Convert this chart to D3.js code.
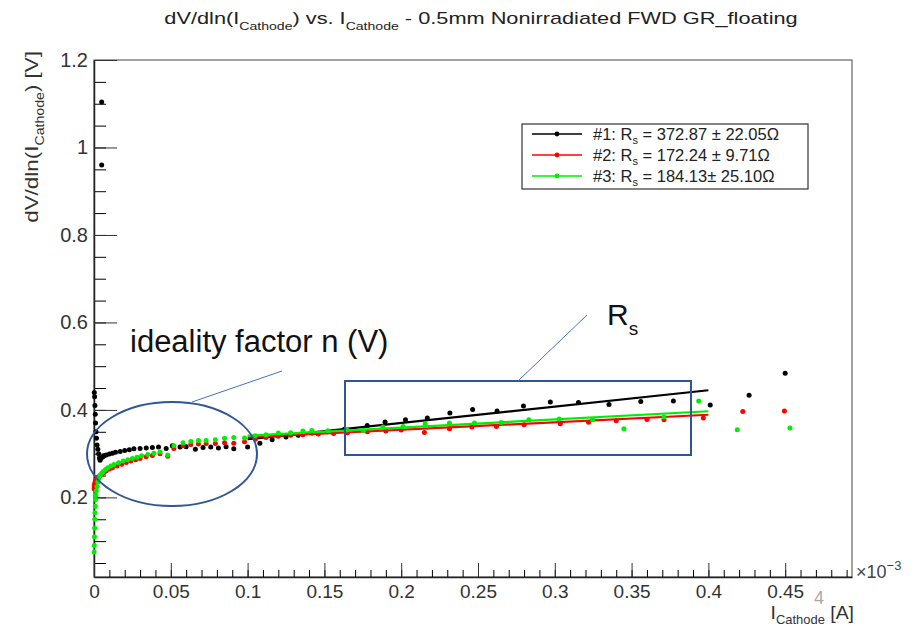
<!DOCTYPE html>
<html>
<head>
<meta charset="utf-8">
<script src="https://cdn.jsdelivr.net/npm/d3@7"></script>
<style>
  body { margin: 0; background: #fff; }
  svg { display: block; font-family: "Liberation Sans", Arial, sans-serif; }
</style>
</head>
<body>
<div id="chart"></div>
<script>
// data, current in units of 1e-3 A, dV/dlnI in V
const series1 = [
  [0.0002, 0.44], [0.0004, 0.43], [0.0006, 0.41], [0.0008, 0.39], [0.001, 0.37],
  [0.0013, 0.35], [0.0016, 0.335], [0.002, 0.32], [0.0025, 0.31], [0.003, 0.30],
  [0.0035, 0.29], [0.004, 0.285], [0.0045, 0.29], [0.005, 1.104], [0.005, 0.96],
  [0.0055, 0.292], [0.0065, 0.295], [0.008, 0.297], [0.01, 0.299], [0.012, 0.301],
  [0.014, 0.303], [0.017, 0.305], [0.02, 0.307], [0.023, 0.309], [0.026, 0.311],
  [0.03, 0.312], [0.034, 0.313], [0.038, 0.314], [0.042, 0.315], [0.047, 0.312],
  [0.051, 0.318], [0.056, 0.315], [0.06, 0.316], [0.066, 0.31], [0.071, 0.314],
  [0.076, 0.315], [0.081, 0.313], [0.086, 0.316], [0.091, 0.311], [0.1, 0.315],
  [0.108, 0.324], [0.116, 0.332], [0.125, 0.338], [0.133, 0.342], [0.142, 0.347],
  [0.152, 0.35], [0.163, 0.356], [0.1779, 0.3645], [0.1895, 0.3723], [0.2028, 0.3776],
  [0.217, 0.3815], [0.2317, 0.393], [0.2465, 0.4012], [0.2624, 0.3975], [0.2796, 0.409],
  [0.2971, 0.418], [0.3154, 0.417], [0.3353, 0.4126], [0.356, 0.4195], [0.3772, 0.4204],
  [0.4012, 0.4112], [0.4265, 0.4333], [0.45, 0.4836]
];

const series2 = [
  [0.0001, 0.22], [0.0002, 0.225], [0.0003, 0.228], [0.0005, 0.232], [0.0008, 0.236],
  [0.001, 0.238], [0.0015, 0.241], [0.002, 0.244], [0.003, 0.247], [0.004, 0.25],
  [0.005, 0.253], [0.0065, 0.257], [0.008, 0.261], [0.01, 0.265], [0.012, 0.268],
  [0.015, 0.272], [0.018, 0.276], [0.021, 0.28], [0.024, 0.283], [0.027, 0.286],
  [0.03, 0.289], [0.034, 0.293], [0.038, 0.296], [0.043, 0.3], [0.048, 0.294],
  [0.052, 0.312], [0.058, 0.318], [0.063, 0.321], [0.068, 0.322], [0.073, 0.323],
  [0.079, 0.323], [0.085, 0.325], [0.091, 0.324], [0.098, 0.327], [0.105, 0.333],
  [0.112, 0.337], [0.12, 0.34], [0.128, 0.342], [0.136, 0.343], [0.146, 0.345],
  [0.156, 0.346], [0.165, 0.348], [0.178, 0.35], [0.19, 0.352], [0.2, 0.354],
  [0.2151, 0.3485], [0.2314, 0.357], [0.246, 0.361], [0.262, 0.362], [0.28, 0.366],
  [0.3036, 0.3684], [0.322, 0.372], [0.34, 0.375], [0.36, 0.378], [0.3711, 0.3776],
  [0.3967, 0.3815], [0.4224, 0.3966], [0.4495, 0.3975]
];

const series3 = [
  [0.0001, 0.075], [0.0002, 0.09], [0.0003, 0.11], [0.0004, 0.13], [0.0005, 0.15],
  [0.0006, 0.165], [0.0008, 0.18], [0.001, 0.195], [0.0012, 0.205], [0.0015, 0.215],
  [0.002, 0.225], [0.0025, 0.235], [0.003, 0.243], [0.004, 0.25], [0.005, 0.255],
  [0.006, 0.259], [0.0075, 0.264], [0.009, 0.268], [0.011, 0.272], [0.013, 0.275],
  [0.016, 0.279], [0.019, 0.283], [0.022, 0.286], [0.025, 0.289], [0.028, 0.292],
  [0.031, 0.295], [0.035, 0.298], [0.039, 0.301], [0.043, 0.304], [0.048, 0.297],
  [0.052, 0.318], [0.058, 0.325], [0.063, 0.328], [0.068, 0.33], [0.073, 0.33],
  [0.079, 0.332], [0.085, 0.335], [0.091, 0.337], [0.098, 0.336], [0.105, 0.341],
  [0.112, 0.343], [0.12, 0.347], [0.128, 0.348], [0.136, 0.352], [0.1418, 0.353],
  [0.1523, 0.3524], [0.1645, 0.354], [0.1755, 0.353], [0.1881, 0.3608], [0.2012, 0.3623],
  [0.2156, 0.3677], [0.2314, 0.37], [0.2477, 0.37], [0.2652, 0.3714], [0.2831, 0.3776],
  [0.3029, 0.3792], [0.3246, 0.3776], [0.345, 0.357], [0.3711, 0.3837], [0.3937, 0.4204],
  [0.4188, 0.3546], [0.4531, 0.3585]
];

// fit lines (start / end points)
const fit1 = [[0.1, 0.333], [0.4, 0.445]];
const fit2 = [[0.1, 0.3374], [0.4, 0.389]];
const fit3 = [[0.1, 0.341], [0.4, 0.397]];

const seriesColors = ["#000000", "#ff0000", "#00ee00"];
const legendNames = ["#1: R", "#2: R", "#3: R"];
const legendValues = [" = 372.87 \u00b1 22.05\u03a9", " = 172.24 \u00b1 9.71\u03a9", " = 184.13\u00b1 25.10\u03a9"];

const xTickValues = [0, 0.05, 0.1, 0.15, 0.2, 0.25, 0.3, 0.35, 0.4, 0.45];
const xTickLabels = ["0", "0.05", "0.1", "0.15", "0.2", "0.25", "0.3", "0.35", "0.4", "0.45"];
const yTickValues = [0.2, 0.4, 0.6, 0.8, 1.0, 1.2];
const yTickLabels = ["0.2", "0.4", "0.6", "0.8", "1", "1.2"];

// layout
const width = 917;
const height = 626;
const plot = { left: 94, top: 60, right: 852, bottom: 577 };
const font = "Liberation Sans, Arial, sans-serif";

const svg = d3.select("#chart")
  .append("svg")
  .attr("width", width)
  .attr("height", height);

svg.append("rect").attr("width", width).attr("height", height).attr("fill", "#fff");

const x = d3.scaleLinear().domain([0, 0.4935]).range([plot.left, plot.right]);
const y = d3.scaleLinear().domain([0.018, 1.2]).range([plot.bottom, plot.top]);

// frame
svg.append("rect")
  .attr("x", plot.left).attr("y", plot.top)
  .attr("width", plot.right - plot.left).attr("height", plot.bottom - plot.top)
  .attr("fill", "none").attr("stroke", "#444").attr("stroke-width", 1);

// y axis: ticks inside the frame
const yMinor = d3.range(0.05, 1.2001, 0.05).filter(v => y(v) <= plot.bottom);
svg.append("g")
  .attr("transform", `translate(${plot.left},0)`)
  .call(d3.axisLeft(y).tickValues(yMinor).tickSize(-12).tickSizeOuter(0).tickFormat(""))
  .call(g => g.select(".domain").remove());

svg.append("g")
  .attr("transform", `translate(${plot.left},0)`)
  .call(d3.axisLeft(y).tickValues(yTickValues).tickSize(-23).tickSizeOuter(0).tickPadding(6)
    .tickFormat((d, i) => yTickLabels[i]))
  .call(g => g.select(".domain").attr("stroke", "#222").attr("stroke-width", 1.5))
  .call(g => g.selectAll(".tick line").attr("stroke", "#333"))
  .call(g => g.selectAll("text").attr("font-size", 20).attr("fill", "#333")
    .attr("font-family", font));

// x axis: ticks inside the frame
const xMinor = d3.range(0, 0.4901, 0.01);
svg.append("g")
  .attr("transform", `translate(0,${plot.bottom})`)
  .call(d3.axisBottom(x).tickValues(xMinor).tickSize(-7).tickSizeOuter(0).tickFormat(""))
  .call(g => g.select(".domain").remove());

svg.append("g")
  .attr("transform", `translate(0,${plot.bottom})`)
  .call(d3.axisBottom(x).tickValues(xTickValues).tickSize(-14).tickSizeOuter(0).tickPadding(8)
    .tickFormat((d, i) => xTickLabels[i]))
  .call(g => g.select(".domain").attr("stroke", "#222").attr("stroke-width", 1.5))
  .call(g => g.selectAll(".tick line").attr("stroke", "#333"))
  .call(g => g.selectAll("text").attr("font-size", 19).attr("fill", "#333")
    .attr("font-family", font));

// exponent label
const expo = svg.append("text").attr("x", 856).attr("y", 578)
  .attr("font-size", 18).attr("fill", "#444");
expo.append("tspan").text("\u00d710");
expo.append("tspan").attr("dy", -8).attr("font-size", 13).text("\u22123");

// axis titles
const xt = svg.append("text")
  .attr("transform", "translate(854,619) scale(1.08,1)")
  .attr("text-anchor", "end").attr("font-size", 18).attr("fill", "#333");
xt.append("tspan").text("I");
xt.append("tspan").attr("dy", 5).attr("font-size", 12).text("Cathode");
xt.append("tspan").attr("dy", -5).text(" [A]");

const yt = svg.append("text")
  .attr("transform", "translate(38,51) rotate(-90) scale(1.18,1)")
  .attr("text-anchor", "end").attr("font-size", 19).attr("fill", "#333");
yt.append("tspan").text("dV/dln(I");
yt.append("tspan").attr("dy", 6).attr("font-size", 12).text("Cathode");
yt.append("tspan").attr("dy", -6).text(") [V]");

// title, stretched horizontally like the original canvas
const title = svg.append("text")
  .attr("transform", "translate(481,24) scale(1.28,1)")
  .attr("text-anchor", "middle").attr("font-size", 17).attr("fill", "#222");
title.append("tspan").text("dV/dln(I");
title.append("tspan").attr("dy", 6).attr("font-size", 11).text("Cathode");
title.append("tspan").attr("dy", -6).text(") vs. I");
title.append("tspan").attr("dy", 6).attr("font-size", 11).text("Cathode");
title.append("tspan").attr("dy", -6).text(" - 0.5mm Nonirradiated FWD GR_floating");

// slide number
svg.append("text").attr("x", 819).attr("y", 604).attr("text-anchor", "middle")
  .attr("font-size", 18).attr("fill", "#aaa").text("4");

// series
const line = d3.line().x(d => x(d[0])).y(d => y(d[1]));
const allSeries = [series1, series2, series3];
const allFits = [fit1, fit2, fit3];

allSeries.forEach((s, i) => {
  svg.append("path")
    .datum(allFits[i])
    .attr("d", line)
    .attr("fill", "none")
    .attr("stroke", seriesColors[i])
    .attr("stroke-width", 2.2);

  svg.append("g")
    .selectAll("circle")
    .data(s)
    .enter().append("circle")
    .attr("cx", d => x(d[0]))
    .attr("cy", d => y(d[1]))
    .attr("r", 2.5)
    .attr("fill", seriesColors[i]);
});

// legend
const legend = svg.append("g");
legend.append("rect")
  .attr("x", 522).attr("y", 124).attr("width", 286).attr("height", 65)
  .attr("fill", "#fff").attr("stroke", "#333").attr("stroke-width", 1.2);

legendNames.forEach((name, i) => {
  const ly = 134 + i * 21;
  legend.append("line")
    .attr("x1", 532).attr("x2", 582).attr("y1", ly).attr("y2", ly)
    .attr("stroke", seriesColors[i]).attr("stroke-width", 1.5);
  legend.append("circle").attr("cx", 557).attr("cy", ly).attr("r", 2.4)
    .attr("fill", seriesColors[i]);
  const t = legend.append("text").attr("x", 593).attr("y", ly + 6)
    .attr("font-size", 16.5).attr("fill", "#222");
  t.append("tspan").text(name);
  t.append("tspan").attr("dy", 4).attr("font-size", 11).text("s");
  t.append("tspan").attr("dy", -4).text(legendValues[i]);
});

// annotations
const annBlue = "#2f5597";
svg.append("ellipse")
  .attr("cx", 172).attr("cy", 454).attr("rx", 85).attr("ry", 52)
  .attr("fill", "none").attr("stroke", annBlue).attr("stroke-width", 2);

svg.append("line")
  .attr("x1", 192).attr("y1", 402).attr("x2", 282).attr("y2", 371)
  .attr("stroke", "#4472c4").attr("stroke-width", 1);

svg.append("text").attr("x", 130).attr("y", 352)
  .attr("font-size", 31).attr("fill", "#111")
  .attr("font-family", font)
  .text("ideality factor n (V)");

svg.append("rect")
  .attr("x", 345).attr("y", 381).attr("width", 346).attr("height", 74)
  .attr("fill", "none").attr("stroke", annBlue).attr("stroke-width", 2);

svg.append("line")
  .attr("x1", 518).attr("y1", 381).attr("x2", 587).attr("y2", 315)
  .attr("stroke", "#4472c4").attr("stroke-width", 1);

const rs = svg.append("text").attr("x", 607).attr("y", 325)
  .attr("font-size", 30).attr("fill", "#111");
rs.append("tspan").text("R");
rs.append("tspan").attr("dy", 10).attr("font-size", 19).text("s");
</script>
</body>
</html>
